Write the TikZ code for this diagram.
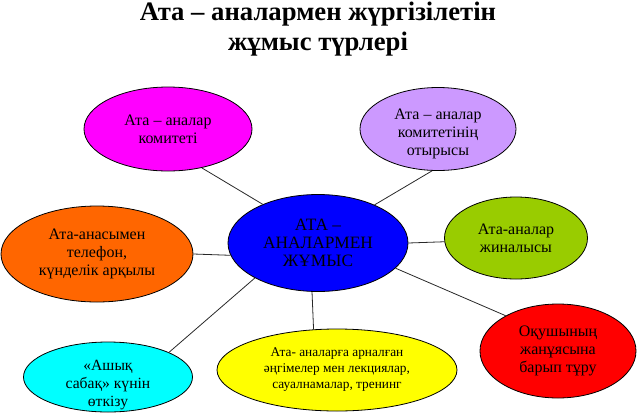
\documentclass[tikz,border=0pt]{standalone}
\usepackage{fontspec}
\setmainfont{Liberation Serif}
\usetikzlibrary{shapes.geometric}

\tikzset{
  oval/.style={ellipse, draw=black, line width=0.6pt, inner sep=0pt, align=center,
    font=\fontsize{12}{13.5}\selectfont, text=black},
  spoke/.style={draw={rgb, 255:red, 40; green, 40; blue, 40 }, line width=0.6pt}
}

\begin{document}
\begin{tikzpicture}[x=0.75pt,y=0.75pt,yscale=-1,xscale=1]
    \useasboundingbox (0,0) rectangle (637,412);

    % Title
    \node (title) at (318,29) [align=center, inner sep=0pt, font=\fontsize{20}{22.5}\selectfont\bfseries] {Ата – аналармен жүргізілетін\\жұмыс түрлері};

    %Shape: Ellipse [centre]
    \node (centre) at (318,243) [oval, minimum width=180*0.75pt, minimum height=97*0.75pt, fill={rgb, 255:red, 0; green, 0; blue, 255 }, font=\fontsize{13}{13.7}\selectfont] {АТА –\\АНАЛАРМЕН\\ЖҰМЫС};
    %Shape: Ellipse [komitet]
    \node (komitet) at (168,129) [oval, minimum width=168*0.75pt, minimum height=84*0.75pt, fill={rgb, 255:red, 255; green, 0; blue, 255 }] {Ата – аналар\\комитеті};
    %Shape: Ellipse [otyrys]
    \node (otyrys) at (438,129) [oval, minimum width=156*0.75pt, minimum height=83*0.75pt, fill={rgb, 255:red, 204; green, 153; blue, 255 }] {};
    %Shape: Ellipse [telefon]
    \node (telefon) at (97,254) [oval, minimum width=192*0.75pt, minimum height=96*0.75pt, fill={rgb, 255:red, 255; green, 102; blue, 0 }] {Ата-анасымен\\телефон,\\күнделік арқылы};
    %Shape: Ellipse [zhinalys]
    \node (zhinalys) at (516,238) [oval, minimum width=143*0.75pt, minimum height=82*0.75pt, fill={rgb, 255:red, 153; green, 204; blue, 0 }] {Ата-аналар\\жиналысы};
    %Shape: Ellipse [otbasy]
    \node (otbasy) at (558,351) [oval, minimum width=156*0.75pt, minimum height=94*0.75pt, fill={rgb, 255:red, 255; green, 0; blue, 0 }] {Оқушының\\жанұясына\\барып тұру};
    %Shape: Ellipse [sabaq]
    \node (sabaq) at (108,377) [oval, minimum width=169*0.75pt, minimum height=70*0.75pt, fill={rgb, 255:red, 0; green, 255; blue, 255 }] {};
    %Shape: Ellipse [lektsiya]
    \node (lektsiya) at (337,370) [oval, minimum width=240*0.75pt, minimum height=82*0.75pt, fill={rgb, 255:red, 255; green, 255; blue, 0 }, font=\fontsize{10}{12}\selectfont] {Ата- аналарға арналған\\әңгімелер мен лекциялар,\\сауалнамалар, тренинг};

    % Text Node
    \node (otyrystext) at (438,134) [align=center, inner sep=0pt, font=\fontsize{12}{13.2}\selectfont] {Ата – аналар\\комитетінің\\отырысы};
    % Text Node
    \node (sabaqtext) at (108,385) [align=center, inner sep=0pt, font=\fontsize{11.7}{13.2}\selectfont] {«Ашық\\сабақ» күнін\\өткізу};

    %Straight Lines
    \draw [spoke] (komitet.-49) -- (centre.145);
    \draw [spoke] (otyrys.-98) -- (centre.34);
    \draw [spoke] (centre.0) -- (zhinalys.183);
    \draw [spoke] (centre.-18) -- (otbasy.146);
    \draw [spoke] (centre.-97) -- (lektsiya.120);
    \draw [spoke] (centre.209) -- (sabaq.22);
    \draw [spoke] (telefon.0) -- (centre.188);

\end{tikzpicture}
\end{document}
